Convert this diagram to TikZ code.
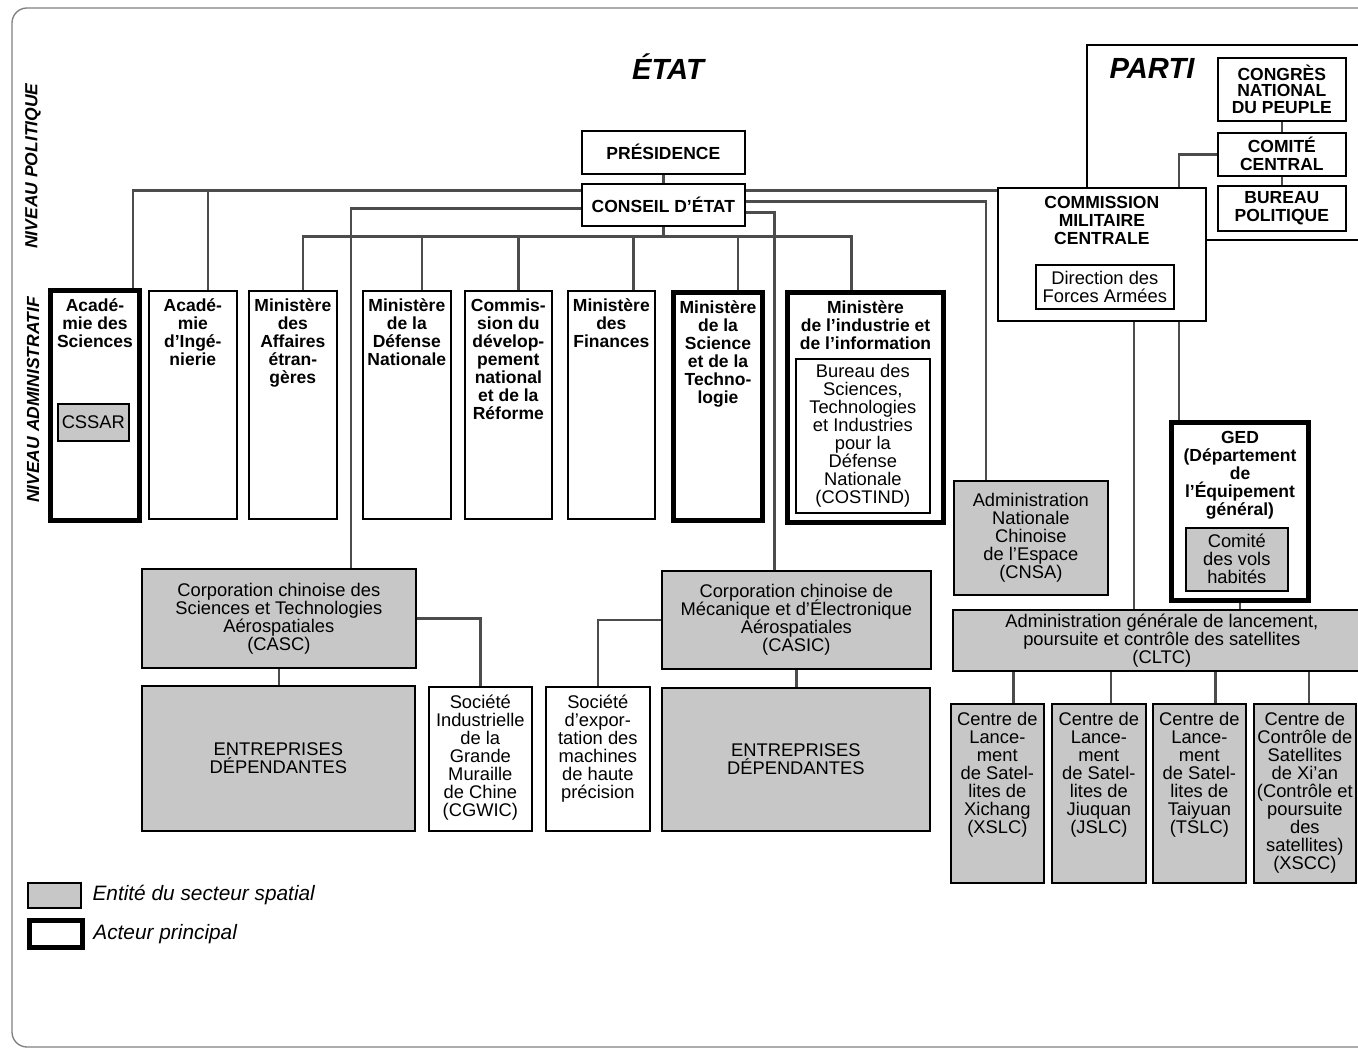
\documentclass[tikz,border=0pt]{standalone}
\usepackage{fontspec}
\setmainfont{Liberation Sans}
\usetikzlibrary{positioning}

\newlength{\pxu}
\setlength{\pxu}{0.6pt}
\newcommand{\topbox}[3]{\parbox[c][#2\pxu][t]{#1\pxu}{\lineskiplimit=-6pt\centering\vspace*{5pt}#3}}
\newcommand{\midbox}[3]{\parbox[c][#2\pxu][c]{#1\pxu}{\lineskiplimit=-6pt\centering\mbox{}#3}}

\begin{document}
\begin{tikzpicture}[x=0.6pt, y=-0.6pt,
	box/.style={draw, line width=1pt, inner sep=0pt, anchor=north west, fill=white, font=\fontsize{10.5}{10.8}\selectfont\bfseries},
	actor/.style={box, line width=3pt},
	spatial/.style={box, fill=black!22, font=\fontsize{11}{10.8}\selectfont},
	plain/.style={box, font=\fontsize{11}{10.8}\selectfont},
	link/.style={draw=black!70, line width=1.6pt},
	level/.style={font=\fontsize{10.5}{12}\selectfont\bfseries\itshape, rotate=90},
	title/.style={font=\fontsize{17.5}{20}\selectfont\bfseries\itshape},
	legend/.style={font=\fontsize{12.5}{14}\selectfont\itshape}
	]
	\useasboundingbox (0,0) rectangle (1358,1049);
	\fill[white] (0,0) rectangle (1358,1049);
	\draw[draw=black!50, line width=0.8pt, rounded corners=9pt] (12,8) rectangle (1385,1047);

	% titres
	\node[title] (etat) at (668,67) {ÉTAT};
	\node[title] (parti) at (1152,68) {PARTI};
	\node[level] (nivpol) at (33,166) {NIVEAU POLITIQUE};
	\node[level] (nivadm) at (33,400) {NIVEAU ADMINISTRATIF};
	\draw[line width=0.8pt] (1087,187) |- (1385,45);
	\draw[line width=0.8pt] (1205,240) -- (1385,240);

	% niveau politique
	\node[box] (pres) at (581,130) {\midbox{163}{43}{PRÉSIDENCE}};
	\node[box] (conseil) at (581,183) {\midbox{163}{42}{CONSEIL D'ÉTAT}};
	\node[box] (cnp) at (1217,57) {\midbox{128}{63}{\fontsize{10.5}{9.8}\selectfont CONGRÈS\\NATIONAL\\DU PEUPLE}};
	\node[box] (cc) at (1217,132) {\midbox{128}{43}{COMITÉ\\CENTRAL}};
	\node[box] (bp) at (1217,185) {\midbox{128}{45}{BUREAU\\POLITIQUE}};
	\node[box] (cmc) at (997,187) {\topbox{208}{133}{COMMISSION\\MILITAIRE\\CENTRALE}};
	\node[plain] (dfa) at (1035,264) {\midbox{138}{44}{Direction des\\Forces Armées}};

	% niveau administratif
	\node[actor] (acs) at (48,288) {\topbox{89}{230}{Acadé-\\mie des\\Sciences}};
	\node[spatial] (cssar) at (57,403) {\midbox{71}{37}{CSSAR}};
	\node[box] (aci) at (148,290) {\topbox{88}{228}{Acadé-\\mie\\d'Ingé-\\nierie}};
	\node[box] (mae) at (248,290) {\topbox{88}{228}{Ministère\\des\\Affaires\\étran-\\gères}};
	\node[box] (mdn) at (362,290) {\topbox{88}{228}{Ministère\\de la\\Défense\\Nationale}};
	\node[box] (cdr) at (464,290) {\topbox{87}{228}{Commis-\\sion du\\dévelop-\\pement\\national\\et de la\\Réforme}};
	\node[box] (mfi) at (567,290) {\topbox{87}{228}{Ministère\\des\\Finances}};
	\node[actor] (mst) at (671,290) {\topbox{89}{228}{Ministère\\de la\\Science\\et de la\\Techno-\\logie}};
	\node[actor] (mii) at (785,290) {\topbox{156}{230}{Ministère\\de l’industrie et\\de l’information}};
	\node[plain] (costind) at (795,358) {\midbox{134}{154}{Bureau des\\Sciences,\\Technologies\\et Industries\\pour la\\Défense\\Nationale\\(COSTIND)}};
	\node[spatial] (cnsa) at (953,480) {\midbox{154}{114}{Administration\\Nationale\\Chinoise\\de l’Espace\\(CNSA)}};
	\node[actor] (ged) at (1169,420) {\topbox{137}{178}{GED\\(Département\\de\\l'Équipement\\général)}};
	\node[spatial] (cvh) at (1185,527) {\midbox{102}{63}{Comité\\des vols\\habités}};
	\node[spatial] (cltc) at (952,609) {\midbox{418}{61}{Administration générale de lancement,\\poursuite et contrôle des satellites\\(CLTC)}};
	\node[spatial] (xslc) at (950,703) {\topbox{93}{179}{Centre de\\Lance-\\ment\\de Satel-\\lites de\\Xichang\\(XSLC)}};
	\node[spatial] (jslc) at (1051,703) {\topbox{94}{179}{Centre de\\Lance-\\ment\\de Satel-\\lites de\\Jiuquan\\(JSLC)}};
	\node[spatial] (tslc) at (1152,703) {\topbox{93}{179}{Centre de\\Lance-\\ment\\de Satel-\\lites de\\Taiyuan\\(TSLC)}};
	\node[spatial] (xscc) at (1253,703) {\topbox{102}{179}{Centre de\\Contrôle de\\Satellites\\de Xi'an\\(Contrôle et\\poursuite\\des\\satellites)\\(XSCC)}};

	% industrie
	\node[spatial] (casc) at (141,568) {\midbox{274}{99}{Corporation chinoise des\\Sciences et Technologies\\Aérospatiales\\(CASC)}};
	\node[spatial] (edl) at (141,685) {\midbox{273}{145}{ENTREPRISES\\DÉPENDANTES}};
	\node[plain] (cgwic) at (428,686) {\topbox{103}{144}{Société\\Industrielle\\de la\\Grande\\Muraille\\de Chine\\(CGWIC)}};
	\node[plain] (semhp) at (545,686) {\topbox{104}{144}{Société\\d’expor-\\tation des\\machines\\de haute\\précision}};
	\node[spatial] (casic) at (661,570) {\midbox{269}{98}{Corporation chinoise de\\Mécanique et d’Électronique\\Aérospatiales\\(CASIC)}};
	\node[spatial] (edr) at (661,687) {\midbox{268}{143}{ENTREPRISES\\DÉPENDANTES}};

	% legende
	\node[spatial] (legsp) at (27,882) {\midbox{53}{25}{}};
	\node[actor] (legac) at (27,918) {\midbox{53}{27}{}};
	\node[legend, right=3pt of legsp] (legsptxt) {Entité du secteur spatial};
	\node[legend, right=1.5pt of legac] (legactxt) {Acteur principal};

	% liens
	\coordinate (cwA) at ([shift={(0,-14)}]conseil.west);
	\coordinate (cwB) at ([shift={(0,4)}]conseil.west);
	\coordinate (ceA) at ([shift={(0,-14)}]conseil.east);
	\coordinate (ceB) at ([shift={(0,-3)}]conseil.east);
	\coordinate (ceC) at ([shift={(0,8)}]conseil.east);
	\coordinate (bus) at ([shift={(0,10)}]conseil.south);
	\draw[link] (pres.south) -- (conseil.north);
	\draw[link] (cwA) -| ([shift={(38,0)}]acs.north);
	\draw[link] ([shift={(15,0)}]aci.north) |- (cwA);
	\draw[link] (cwB) -| ([shift={(72,0)}]casc.north);
	\draw[link] (ceA) -- (ceA -| cmc.west);
	\draw[link] (ceB) -| ([shift={(-45,0)}]cnsa.north);
	\draw[link] (ceC) -| ([shift={(-22,0)}]casic.north);
	\draw[link] (conseil.south) -- (bus);
	\foreach \n/\o in {mae/10, mdn/15, cdr/10, mfi/22, mst/20, mii/-14}
		\draw[link] ([shift={(\o,0)}]\n.north) |- (bus);

	\draw[link] (cnp.south) -- (cc.north);
	\draw[link] (cc.south) -- (bp.north);
	\draw[link] (cc.west) -| ([shift={(77,0)}]cmc.north);
	\coordinate (cmcA) at ([shift={(32,0)}]cmc.south);
	\coordinate (cmcB) at ([shift={(77,0)}]cmc.south);
	\draw[link] (cmcA) -- (cmcA |- cltc.north);
	\draw[link] (cmcB) -- (cmcB |- ged.north);
	\draw[link] (ged.south) -- (ged.south |- cltc.north);
	\foreach \n/\o in {xslc/16, jslc/12, tslc/16, xscc/4} {
		\coordinate (tip) at ([shift={(\o,0)}]\n.north);
		\draw[link] (tip) -- (tip |- cltc.south);
	}

	\draw[link] (casc.south) -- (casc.south |- edl.north);
	\draw[link] (casc.east) -| (cgwic.north);
	\draw[link] (casic.west) -| (semhp.north);
	\draw[link] (casic.south) -- (casic.south |- edr.north);
\end{tikzpicture}
\end{document}
